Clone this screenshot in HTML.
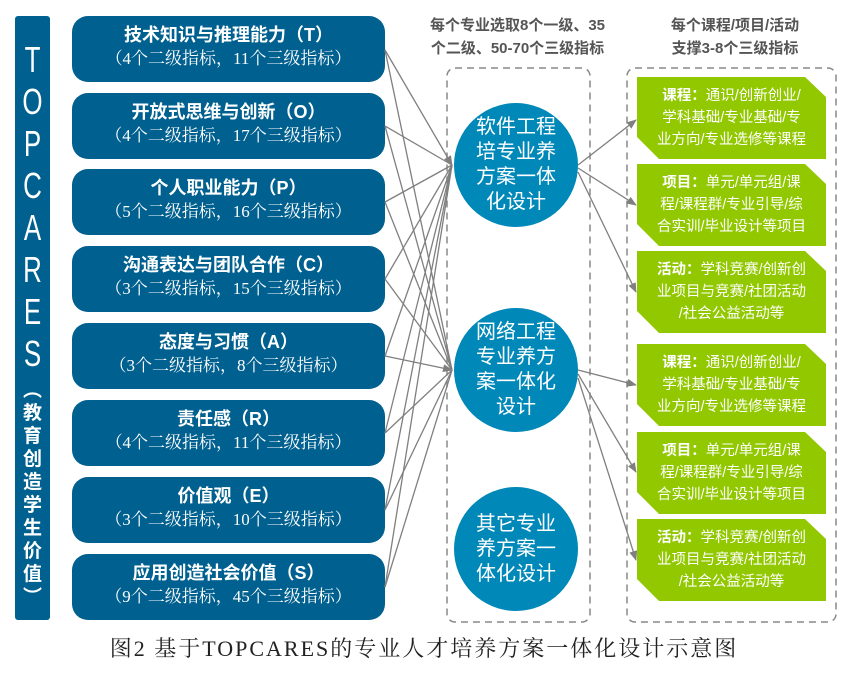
<!DOCTYPE html>
<html><head><meta charset="utf-8"><style>
body{margin:0;width:848px;height:673px;background:#fff;position:relative;overflow:hidden;font-family:"Liberation Sans","Noto Sans CJK SC",sans-serif}
.bar{position:absolute;left:15px;top:16px;width:35px;height:604px;background:#00608f;border-radius:3px;color:#fff;text-align:center;overflow:hidden}
.box{position:absolute;left:72px;width:313px;height:66px;background:#00608f;border-radius:16px;color:#fff;text-align:center}
.box .t{font-weight:bold;font-size:18px;margin-top:8px;line-height:23px}
.box .s{font-family:"Liberation Serif","Noto Serif CJK SC",serif;font-size:17px;line-height:24px}
.c{position:absolute;width:124px;height:124px;border-radius:50%;background:#0088b8;color:#fff;font-size:20px;line-height:25px;display:flex;align-items:center;justify-content:center;text-align:center}
.g{position:absolute;left:637px;width:189px;height:82px;background:#92c800;color:#fff;font-size:14.5px;line-height:22px;text-align:center;clip-path:polygon(0 0,168px 0,100% 20px,100% 100%,22px 100%,0 60px);display:flex;align-items:center;justify-content:center}
.h{position:absolute;font-weight:bold;color:#555;font-size:15px;line-height:23px;text-align:center}
</style></head><body>
<div class="bar"><div style="font-size:36px;line-height:42px;margin-top:23px;transform:scaleX(0.72)">T<br>O<br>P<br>C<br>A<br>R<br>E<br>S</div><div style="font-size:19px;line-height:23px;font-weight:bold;margin-top:4px">︵<br>教<br>育<br>创<br>造<br>学<br>生<br>价<br>值<br>︶</div></div>
<div class="box" style="top:16px"><div class="t">技术知识与推理能力（T）</div><div class="s">（4个二级指标，11个三级指标）</div></div>
<div class="box" style="top:93px"><div class="t">开放式思维与创新（O）</div><div class="s">（4个二级指标，17个三级指标）</div></div>
<div class="box" style="top:169px"><div class="t">个人职业能力（P）</div><div class="s">（5个二级指标，16个三级指标）</div></div>
<div class="box" style="top:246px"><div class="t">沟通表达与团队合作（C）</div><div class="s">（3个二级指标，15个三级指标）</div></div>
<div class="box" style="top:323px"><div class="t">态度与习惯（A）</div><div class="s">（3个二级指标，8个三级指标）</div></div>
<div class="box" style="top:400px"><div class="t">责任感（R）</div><div class="s">（4个二级指标，11个三级指标）</div></div>
<div class="box" style="top:477px"><div class="t">价值观（E）</div><div class="s">（3个二级指标，10个三级指标）</div></div>
<div class="box" style="top:554px"><div class="t">应用创造社会价值（S）</div><div class="s">（9个二级指标，45个三级指标）</div></div>
<div class="h" style="left:420px;width:195px;top:14px">每个专业选取8个一级、35<br>个二级、50-70个三级指标</div>
<div class="h" style="left:640px;width:190px;top:14px">每个课程/项目/活动<br>支撑3-8个三级指标</div>
<svg style="position:absolute;left:0;top:0" width="848" height="673">
<defs><marker id="a" markerWidth="10" markerHeight="8" refX="9" refY="4" orient="auto" markerUnits="userSpaceOnUse"><path d="M0,0L10,4L0,8z" fill="#7f7f7f"/></marker></defs>
<rect x="447" y="68" width="143" height="554" rx="8" fill="none" stroke="#888" stroke-width="1.5" stroke-dasharray="7,5"/>
<rect x="627" y="68" width="209" height="554" rx="8" fill="none" stroke="#888" stroke-width="1.5" stroke-dasharray="7,5"/>
<g stroke="#7f7f7f" stroke-width="1.3" fill="none">
<line x1="385" y1="50" x2="452" y2="165" marker-end="url(#a)"/><line x1="385" y1="50" x2="452" y2="370"/>
<line x1="385" y1="126" x2="452" y2="165"/><line x1="385" y1="126" x2="452" y2="370"/>
<line x1="385" y1="202" x2="452" y2="165"/><line x1="385" y1="202" x2="452" y2="370"/>
<line x1="385" y1="279" x2="452" y2="165"/><line x1="385" y1="279" x2="452" y2="370"/>
<line x1="385" y1="356" x2="452" y2="165"/><line x1="385" y1="356" x2="452" y2="370" marker-end="url(#a)"/>
<line x1="385" y1="433" x2="452" y2="165"/><line x1="385" y1="433" x2="452" y2="370"/>
<line x1="385" y1="510" x2="452" y2="165"/><line x1="385" y1="510" x2="452" y2="370"/>
<line x1="385" y1="587" x2="452" y2="165"/><line x1="385" y1="587" x2="452" y2="370"/>
<line x1="578" y1="165" x2="636" y2="120" marker-end="url(#a)"/>
<line x1="578" y1="168" x2="636" y2="205" marker-end="url(#a)"/>
<line x1="578" y1="172" x2="636" y2="292" marker-end="url(#a)"/>
<line x1="578" y1="370" x2="636" y2="385" marker-end="url(#a)"/>
<line x1="578" y1="374" x2="636" y2="472" marker-end="url(#a)"/>
<line x1="578" y1="378" x2="636" y2="560" marker-end="url(#a)"/>
</g></svg>
<div class="c" style="left:454px;top:103px">软件工程<br>培专业养<br>方案一体<br>化设计</div>
<div class="c" style="left:454px;top:308px">网络工程<br>专业养方<br>案一体化<br>设计</div>
<div class="c" style="left:454px;top:487px">其它专业<br>养方案一<br>体化设计</div>
<div class="g" style="top:77px"><div><b>课程：</b>通识/创新创业/<br>学科基础/专业基础/专<br>业方向/专业选修等课程</div></div>
<div class="g" style="top:164px"><div><b>项目：</b>单元/单元组/课<br>程/课程群/专业引导/综<br>合实训/毕业设计等项目</div></div>
<div class="g" style="top:251px"><div><b>活动：</b>学科竞赛/创新创<br>业项目与竞赛/社团活动<br>/社会公益活动等</div></div>
<div class="g" style="top:344px"><div><b>课程：</b>通识/创新创业/<br>学科基础/专业基础/专<br>业方向/专业选修等课程</div></div>
<div class="g" style="top:432px"><div><b>项目：</b>单元/单元组/课<br>程/课程群/专业引导/综<br>合实训/毕业设计等项目</div></div>
<div class="g" style="top:519px"><div><b>活动：</b>学科竞赛/创新创<br>业项目与竞赛/社团活动<br>/社会公益活动等</div></div>
<div style="position:absolute;left:0;width:848px;top:632px;text-align:center;font-family:'Liberation Serif','Noto Serif CJK SC',serif;font-size:22px;color:#222;letter-spacing:2px">图2 基于TOPCARES的专业人才培养方案一体化设计示意图</div>
</body></html>
